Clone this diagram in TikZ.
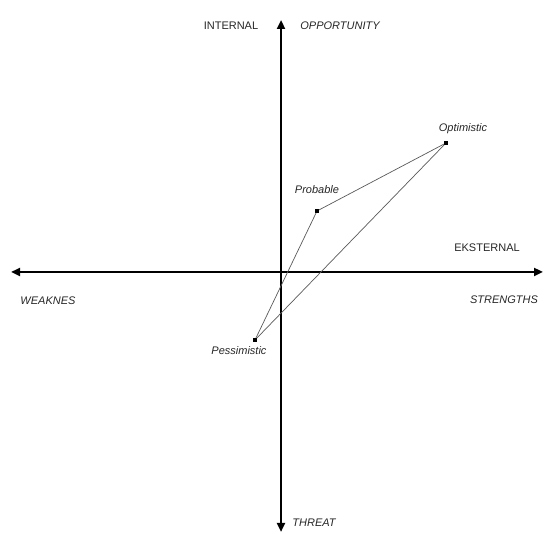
\documentclass[tikz,border=0pt]{standalone}
\usepackage{fontspec}
\setmainfont{Liberation Sans}
\usetikzlibrary{arrows.meta}
\tikzset{
  axis/.style  = {line width=2.4pt, black, {Triangle[length=9pt,width=8pt]}-{Triangle[length=9pt,width=8pt]}},
  link/.style  = {gray!70!black, line width=0.7pt},
  pt/.style    = {rectangle, fill=black, inner sep=0pt, minimum size=3.5pt},
  tag/.style   = {font=\fontsize{11}{13}\selectfont, text=black!85},
  itag/.style  = {tag, font=\fontsize{11}{13}\selectfont\itshape},
}
\begin{document}
\begin{tikzpicture}[x=1pt,y=-1pt]
\useasboundingbox (0,0) rectangle (544,534);
% --- axes ---------------------------------------------------------------
\coordinate (top) at (281,20);
\coordinate (bottom) at (281,532);
\coordinate (left) at (11,272);
\coordinate (right) at (543,272);
\draw[axis] (bottom) -- (top);
\draw[axis] (left) -- (right);
% --- axis labels --------------------------------------------------------
\node[tag]  (internal) at (231,26)  {INTERNAL};
\node[itag] (opport)   at (340,26)  {OPPORTUNITY};
\node[tag]  (ekstern)  at (487,248) {EKSTERNAL};
\node[itag] (weak)     at (48,301)  {WEAKNES};
\node[itag] (strength) at (504,300) {STRENGTHS};
\node[itag] (threat)   at (314,523) {THREAT};
% --- scenarios ----------------------------------------------------------
\node[pt] (opt)  at (446,143) {};
\node[pt] (prob) at (317,211) {};
\node[pt] (pess) at (255,340) {};
\draw[link] (prob) -- (opt);
\draw[link] (prob) -- (pess);
\draw[link] (pess) -- (opt);
\node[itag] (optlbl)  at (463,129) {Optimistic};
\node[itag] (problbl) at (317,190) {Probable};
\node[itag] (pesslbl) at (239,351) {Pessimistic};
\end{tikzpicture}
\end{document}
